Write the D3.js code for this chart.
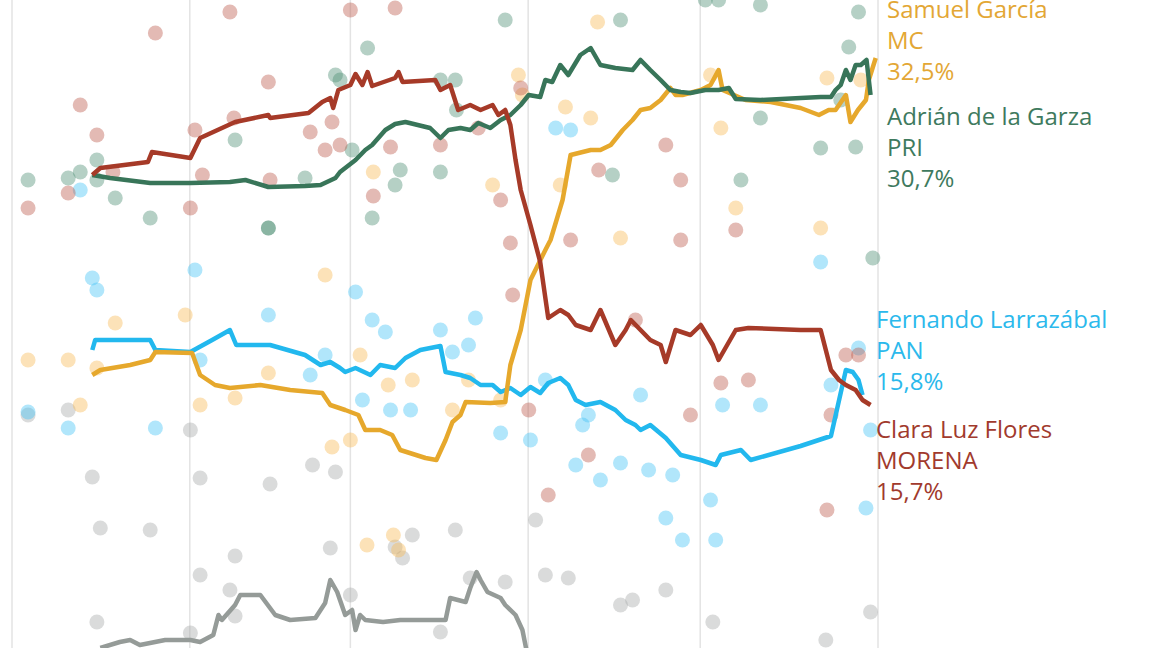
<!DOCTYPE html>
<html><head><meta charset="utf-8">
<script src="https://cdn.jsdelivr.net/npm/d3@7"></script>
<style>body{margin:0;background:#fff}svg{display:block}</style>
</head><body><svg id="c" width="1152" height="648"></svg>
<script>
// day = days since 1 Jan 2021, value = % vote intention
const morenaLine=[[14,26.75],[15.4,27.1],[23.7,27.4],[24.4,27.9],[31.1,27.6],[32.8,28.6],[38.9,29.4],[44.7,29.75],[45,29.6],[51.7,29.85],[54.1,30.4],[55.5,30.6],[56,30.1],[56.9,31],[59,31.25],[59.9,31.8],[61.1,31.25],[62,31.9],[62.8,31.2],[66.8,31.6],[67.4,31.9],[68.1,31.4],[73.8,31.5],[74.7,31],[76.4,31.25],[77.8,30],[79.9,30.25],[81.7,30],[83.8,30.25],[84.8,29.75],[86,30],[86.9,29.25],[87.8,27.5],[88.7,26],[90.4,24.25],[92.1,22.4],[93.5,19.6],[95.6,20],[97,19.75],[98.3,19.25],[100.9,19],[102.6,20],[105.2,18.25],[107,19],[107.9,19.5],[109.6,19],[111.3,18.5],[113.1,18.25],[114,17.4],[115.7,19],[118.3,18.75],[120.1,19.25],[122.2,18.25],[123.2,17.5],[126.2,19],[128.4,19.1],[137.5,19],[141,19],[142.8,17],[144.2,16.5],[145.4,16.25],[147.1,16],[148.3,15.5],[149.7,15.25]];
const priLine=[[14,26.75],[17.1,26.6],[24.1,26.35],[31.1,26.35],[38,26.4],[40.7,26.5],[44.7,26.15],[51.1,26.2],[53.8,26.25],[56.4,26.6],[57.2,26.9],[59.9,27.5],[61.6,28],[62.8,28.25],[65.1,29],[66.8,29.3],[68.6,29.4],[72.9,29.1],[74.7,28.6],[76.1,29],[78.2,29.1],[79.9,29],[81.3,29.35],[83.4,29.1],[85.2,29.5],[86.9,29.75],[88.7,30.25],[90.1,30.75],[92.1,30.65],[93,31.5],[94.2,31.4],[95.6,32.25],[97,31.75],[99.1,32.75],[100.9,33.1],[102.6,32.25],[105.2,32.1],[108.2,32],[109.6,32.5],[111.3,32],[113.1,31.5],[114.8,31],[116.6,30.9],[118.3,30.85],[120.9,31],[123.2,31],[125,31.1],[126.2,30.55],[130.5,30.5],[137.5,30.6],[141,30.65],[142.8,30.65],[143.6,31],[144.5,31.25],[145.4,32],[146.2,31.5],[147.1,32.25],[148,32.25],[149,32.5],[149.7,30.75]];
const mcLine=[[14,16.75],[15.4,17],[20.6,17.25],[24.1,17.5],[25,17.9],[31.4,17.85],[32.8,16.75],[35.4,16.25],[38,16.1],[43.3,16.25],[48.5,16],[54.1,15.85],[55.5,15.25],[58.1,15],[60.4,14.75],[61.6,14],[64.2,14],[66.3,13.75],[67.7,13],[72.1,12.6],[74,12.5],[75.6,13.5],[76.8,14.4],[78.2,14.75],[79.1,15.4],[83.4,15.35],[86,15.4],[86.9,17.25],[88.7,19],[90.4,21.5],[93,23],[93.9,23.5],[96,25.5],[97.4,27.75],[100.9,28],[102.6,28],[104.4,28.25],[106.5,29],[108.2,29.5],[109.6,30],[111.3,30.1],[113.1,30.5],[114.8,31.1],[115.7,30.75],[116.9,30.75],[120.1,31],[121.8,31.25],[123.2,32],[123.9,31],[127.9,30.5],[132.3,30.4],[137.5,30.1],[140.7,29.75],[142.4,30],[143.6,30],[145.4,30.75],[146.2,29.4],[147.5,30],[148.9,30.5],[149.4,31.5],[150.6,32.6]];
const panLine=[[14,18],[14.5,18.5],[24.1,18.5],[25,18],[31.1,17.9],[34.9,18.5],[38,19],[39.1,18.25],[45,18.25],[51.1,17.75],[53.8,17.25],[55.5,17.4],[57.2,17.1],[58.1,16.9],[59.9,17.1],[62.5,16.75],[64.2,17.25],[66.8,17.1],[68.6,17.6],[71.2,18],[74.7,18.2],[75.6,16.9],[78.2,16.75],[79.9,16.6],[81.7,16.25],[83.8,16.25],[85.2,15.9],[86.9,16.1],[88.7,15.75],[90.4,16.15],[92.1,15.85],[93.5,16.35],[95.6,16.6],[97,16.25],[98.3,15.5],[100,15.25],[102.6,15.4],[105.2,15],[107,14.5],[108.7,14.25],[109.6,14],[111.3,14.25],[114,13.6],[116.6,12.75],[120.1,12.5],[122.7,12.25],[123.6,12.75],[127.1,13],[128.8,12.5],[137.5,13.2],[142.8,13.7],[145.4,17],[146.6,16.9],[147.6,16.5],[148.3,15.75]];
const otherLine=[[15.4,3.1],[18.8,3.4],[20.6,3.5],[22.3,3.25],[26.7,3.5],[31.1,3.5],[32.8,3.4],[35.1,3.75],[36,4.75],[36.6,4.5],[38.9,5.25],[39.8,5.75],[43.3,5.75],[45.9,4.75],[48.5,4.5],[52.9,4.6],[54.6,5.35],[55.5,6.5],[56.7,5.9],[58.1,4.75],[59.3,5],[59.9,4],[60.7,4.75],[61.6,4.5],[64.7,4.4],[67.7,4.5],[75.6,4.5],[76.4,5.6],[79.1,5.4],[79.9,6.1],[81,6.9],[81.7,6.5],[82.9,5.9],[85.2,5.6],[86,5.25],[87.8,4.75],[89,4],[89.7,3]];

const morenaPolls=[[2.8,25.1],[9.8,25.85],[11.9,30.25],[14.8,28.75],[17.6,26.9],[25,33.85],[31.9,29],[31.1,25.1],[33.2,26.75],[38,34.9],[38.7,29.6],[44.7,31.4],[45,26.5],[52,28.9],[54.6,28],[59,35],[55.8,29.4],[57.2,28.25],[63,25.7],[66,28.15],[66.8,35.1],[74.7,28.25],[81.3,29.1],[85.2,25.5],[86.9,23.35],[87.3,20.75],[88.7,31.1],[90.1,15],[93.5,10.75],[97.4,23.5],[100.5,12.75],[102.3,27],[108.7,19.5],[114,28.25],[116.6,23.5],[116.6,26.5],[118.3,14.75],[123.6,16.35],[126.2,24],[128.4,16.5],[142.1,10],[142.8,14.75],[145.4,17.75],[147.6,17.75]];
const priPolls=[[2.8,26.5],[9.8,26.6],[11.9,26.9],[14.8,27.5],[14.8,26.5],[18,25.6],[24.1,24.6],[38.9,28.5],[44.7,24.1],[44.7,24.1],[51.1,26.6],[56.4,31.75],[57.2,31.5],[62,33.1],[62.8,24.6],[59.3,28],[66.8,26.25],[67.7,27],[74.7,31.5],[77.3,31.5],[74.7,26.9],[77.5,30],[86,34.5],[104.7,26.75],[106.1,34.5],[120.9,35.5],[123.2,35.5],[130.5,35.25],[130.5,29.6],[127.1,26.5],[141,28.1],[144.5,30.5],[145.9,33.15],[147.1,28.15],[147.6,34.9],[150.1,22.6]];
const mcPolls=[[2.8,17.5],[9.8,17.5],[11.9,15.25],[14.8,17.1],[18,19.35],[30.2,19.75],[32.8,15.25],[38.9,15.6],[44.7,16.85],[54.6,21.75],[55.8,13.15],[59,13.5],[60.7,17.75],[63,26.9],[65.6,16.25],[66.5,8.75],[69.8,16.5],[76.8,15],[79.6,16.5],[83.8,26.25],[85.2,15.5],[88.3,31.75],[89,30.75],[95.6,26.25],[96.5,30.15],[100.9,29.6],[102.1,34.4],[106.1,23.6],[121.8,31.75],[123.6,29.1],[126.2,25.1],[141,24.1],[142.1,31.6],[148,31.5],[61.9,8.25],[67.4,8]];
const panPolls=[[2.8,14.9],[9.8,14.1],[11.9,26],[14,21.6],[14.8,21],[25,14.1],[31.9,22],[32.8,17.5],[44.7,19.75],[52,16.75],[54.6,17.75],[59.9,20.9],[62.8,19.5],[61.1,15.5],[65.1,18.9],[66,15],[69.5,15],[74.7,19],[76.8,17.9],[79.6,18.25],[80.8,19.6],[85.2,13.85],[90.4,13.5],[93,16.5],[94.8,29.1],[97.4,29],[98.3,12.25],[99.5,14.25],[100.5,14.75],[102.6,11.5],[106.1,12.35],[109.6,15.75],[111,12],[114,9.6],[115.2,11.75],[116.9,8.5],[121.8,10.5],[122.7,8.5],[123.9,15.25],[130.5,15.25],[141,22.4],[142.8,16.25],[147.6,18.1],[148.9,10.1],[149.7,14]];
const otherPolls=[[2.8,14.75],[9.8,15],[14,11.65],[15.4,9.1],[24.1,9],[31.1,14],[32.8,11.6],[32.8,6.75],[38.9,7.7],[38,6],[45,11.3],[52.4,12.25],[56.4,11.9],[55.5,8.1],[59,5.75],[66.8,8.15],[68.1,7.6],[69.8,8.75],[77.3,9],[74.7,3.9],[79.9,6.6],[86,6.4],[91.3,9.5],[93,6.75],[97,6.6],[106.1,5.25],[108.2,5.5],[114,6],[122.2,4.4],[141.9,3.5],[149.7,4.9],[14.8,4.4],[31.1,3.85],[38.9,4.7]];

const candidates=["Samuel García","Adrián de la Garza","Fernando Larrazábal","Clara Luz Flores"];
const parties=["MC","PRI","PAN","MORENA"];
const finals=["32,5%","30,7%","15,8%","15,7%"];
const monthTicks=[0,1,2,3,4,5];

const svg=d3.select("#c");
const t0=new Date(2021,0,1);
const dt=d=>new Date(t0.getTime()+d*864e5);
const x=d3.scaleTime().domain([new Date(2021,0,1),new Date(2021,5,1)]).range([12,878]);
const y=d3.scaleLinear().domain([3.1,35.5]).range([648,0]);

svg.append("g").selectAll("line").data(monthTicks).join("line")
 .attr("x1",m=>x(new Date(2021,m,1))).attr("x2",m=>x(new Date(2021,m,1)))
 .attr("y1",0).attr("y2",648).attr("stroke","#e3e3e3").attr("stroke-width",1.5);

const series=[
 {polls:otherPolls,line:otherLine,dot:"#a7aaa9",col:"#959b98"},
 {polls:panPolls,line:panLine,dot:"#44c4f5",col:"#22b8ee"},
 {polls:mcPolls,line:mcLine,dot:"#f8bb55",col:"#e6a82c"},
 {polls:priPolls,line:priLine,dot:"#4f8f74",col:"#387559"},
 {polls:morenaPolls,line:morenaLine,dot:"#bd5a4c",col:"#a63a28"}];

series.forEach(s=>{
 svg.append("g").selectAll("circle").data(s.polls).join("circle")
  .attr("cx",d=>x(dt(d[0]))).attr("cy",d=>y(d[1])).attr("r",7.5)
  .attr("fill",s.dot).attr("fill-opacity",0.42);
});
const line=d3.line().x(d=>x(dt(d[0]))).y(d=>y(d[1]));
series.forEach(s=>{
 svg.append("path").datum(s.line).attr("d",line).attr("fill","none")
  .attr("stroke",s.col).attr("stroke-width",4.5).attr("stroke-linejoin","round");
});

const labCols=["#e3a735","#3e7a5e","#2bb9ec","#a13a2d"];
const labPos=[[887,18],[887,125],[876,328],[876,438]];
candidates.forEach((c,i)=>{
 const t=svg.append("text").attr("x",labPos[i][0]).attr("y",labPos[i][1])
  .attr("fill",labCols[i]).attr("font-family","'Open Sans', sans-serif").attr("font-size",24);
 [c,parties[i],finals[i]].forEach((s,j)=>t.append("tspan").attr("x",labPos[i][0]).attr("dy",j?31:0).text(s));
});
</script></body></html>
